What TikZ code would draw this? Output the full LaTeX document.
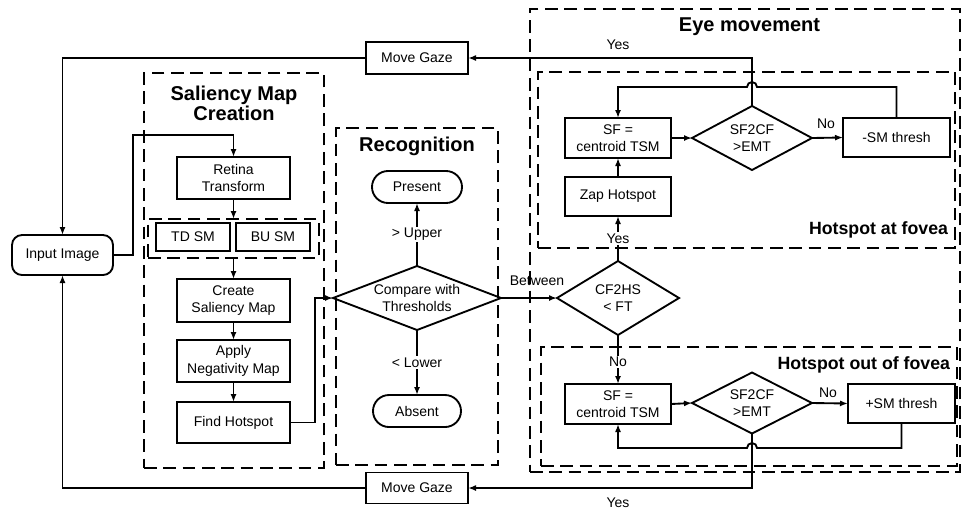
\documentclass[tikz,border=0pt]{standalone}
\usepackage{fontspec}
\setmainfont{Liberation Sans}
\usetikzlibrary{arrows.meta,shapes.geometric}
\def\pxu{0.75pt}
\begin{document}
\begin{tikzpicture}[x=0.75pt,y=-0.75pt,
  every node/.style={font=\fontsize{10.5}{13}\selectfont, inner sep=0pt, outer sep=0pt},
  procbox/.style={draw, line width=1.4pt, align=center},
  termbox/.style={procbox, rounded corners=12pt},
  decis/.style={draw, line width=1.4pt, diamond, inner sep=0pt},
  grp/.style={draw, line width=1.4pt, dash pattern=on 9.5pt off 5pt},
  bigtitle/.style={font=\fontsize{15}{15}\selectfont\bfseries, align=center},
  subtitle/.style={font=\fontsize{13.3}{15}\selectfont\bfseries},
  tag/.style={inner sep=1pt},
  conn/.style={line width=1.4pt},
  arr/.style={conn, -{Latex[length=6pt,width=4.5pt]}}
]
\useasboundingbox (0,0) rectangle (962,512);

% groups
\node[grp, minimum width=180*\pxu, minimum height=395*\pxu] (sal) at (234,270.5) {};
\node[grp, minimum width=171*\pxu, minimum height=39*\pxu] (inner) at (233.5,238.5) {};
\node[grp, minimum width=162*\pxu, minimum height=337*\pxu] (rec) at (417,296.5) {};
\node[grp, minimum width=430*\pxu, minimum height=463*\pxu] (eye) at (745,240.5) {};
\node[grp, minimum width=417*\pxu, minimum height=176*\pxu] (haf) at (746.5,160) {};
\node[grp, minimum width=416*\pxu, minimum height=119*\pxu] (hof) at (749,406.5) {};

% titles
\node[bigtitle] (saltitle) at (234,103) {Saliency Map\\Creation};
\node[bigtitle] (rectitle) at (417,146) {Recognition};
\node[bigtitle] (eyetitle) at (749.5,27) {Eye movement};
\node[subtitle, anchor=east] (haftitle) at (948,230) {Hotspot at fovea};
\node[subtitle, anchor=east] (hoftitle) at (950,365) {Hotspot out of fovea};

% left part
\node[procbox, rounded corners=7.5pt, minimum width=101*\pxu, minimum height=40*\pxu] (inp) at (62.5,255) {Input Image};
\node[procbox, minimum width=102*\pxu, minimum height=32*\pxu] (mg1) at (417,58) {Move Gaze};
\node[procbox, minimum width=102*\pxu, minimum height=31*\pxu] (mg2) at (417,488) {Move Gaze};

\node[procbox, minimum width=113*\pxu, minimum height=42*\pxu] (ret) at (233.5,178) {Retina\\Transform};
\node[procbox, minimum width=74*\pxu, minimum height=28*\pxu] (td) at (193,237) {TD SM};
\node[procbox, minimum width=74*\pxu, minimum height=28*\pxu] (bu) at (273,237) {BU SM};
\node[procbox, minimum width=113*\pxu, minimum height=43*\pxu] (cre) at (233.5,300.5) {Create\\Saliency Map};
\node[procbox, minimum width=113*\pxu, minimum height=42*\pxu] (app) at (233.5,361) {Apply\\Negativity Map};
\node[procbox, minimum width=113*\pxu, minimum height=41*\pxu] (fh) at (233.5,422.5) {Find Hotspot};

% recognition
\node[termbox, minimum width=90*\pxu, minimum height=32*\pxu] (pres) at (417,187) {Present};
\node[termbox, minimum width=88*\pxu, minimum height=32*\pxu] (abs) at (417,411) {Absent};
\node[decis, minimum width=168*\pxu, minimum height=64*\pxu] (cmp) at (417,298) {};
\node[align=center] (cmpt) at (cmp.center) {Compare with\\Thresholds};

% eye movement
\node[procbox, minimum width=106*\pxu, minimum height=40*\pxu] (sf1) at (618,138) {SF =\\centroid TSM};
\node[procbox, minimum width=106*\pxu, minimum height=39*\pxu] (zap) at (618,196.5) {Zap Hotspot};
\node[decis, minimum width=120*\pxu, minimum height=64*\pxu] (d1) at (752,138) {};
\node[align=center] (d1t) at (d1.center) {SF2CF\\>EMT};
\node[procbox, minimum width=107*\pxu, minimum height=39*\pxu] (msm) at (896.5,137.5) {-SM thresh};

\node[decis, minimum width=122*\pxu, minimum height=74*\pxu] (cf) at (618,298) {};
\node[align=center] (cft) at (cf.center) {CF2HS\\< FT};

\node[procbox, minimum width=106*\pxu, minimum height=40*\pxu] (sf2) at (618,404) {SF =\\centroid TSM};
\node[decis, minimum width=120*\pxu, minimum height=61*\pxu] (d2) at (752,403) {};
\node[align=center] (d2t) at (d2.center) {SF2CF\\>EMT};
\node[procbox, minimum width=107*\pxu, minimum height=39*\pxu] (psm) at (901.5,403.5) {+SM thresh};

% connectors
\draw[arr] (mg1.west) -| (inp.north);
\draw[arr] (mg2.west) -| (inp.south);
\draw[arr] (inp.east) -- (133,255) |- (233.5,135) -- (ret.north);
\draw[arr] (ret.south) -- (inner.north);
\draw[arr] (inner.south) -- (cre.north);
\draw[arr] (cre.south) -- (app.north);
\draw[arr] (app.south) -- (fh.north);
\draw[arr] (fh.east) -- (315,422.5) |- (cmp.west);

\draw[arr] (cmp.north) -- node[tag, fill=white] (lup) {> Upper} (pres.south);
\draw[arr] (cmp.south) -- node[tag, fill=white] (llo) {< Lower} (abs.north);
\draw[arr] (cmp.east) -- (cf.west);
\node[tag] (lbet) at (537,281) {Between};

\draw[arr] (cf.north) -- node[tag, fill=white, pos=0.5] (lyes1) {Yes} (zap.south);
\draw[arr] (cf.south) -- node[tag, fill=white, pos=0.55] (lno1) {No} (sf2.north);
\draw[arr] (zap.north) -- (sf1.south);
\draw[arr] (sf1.east) -- (d1.west);
\draw[arr] (d1.east) -- (msm.west);
\node[tag] (lno2) at (826,124) {No};
\draw[arr] (msm.north) |- (757,87) arc[start angle=0, end angle=180, radius=3.75pt] -| (sf1.north);
\draw[arr] (d1.north) |- (mg1.east);
\node[tag] (lyes2) at (618,45) {Yes};

\draw[arr] (sf2.east) -- (d2.west);
\draw[arr] (d2.east) -- (psm.west);
\node[tag] (lno3) at (828,393) {No};
\draw[arr] (psm.south) |- (757,448) arc[start angle=0, end angle=180, radius=3.75pt] -| (sf2.south);
\draw[arr] (d2.south) |- (mg2.east);
\node[tag] (lyes3) at (618,503) {Yes};
\end{tikzpicture}
\end{document}
